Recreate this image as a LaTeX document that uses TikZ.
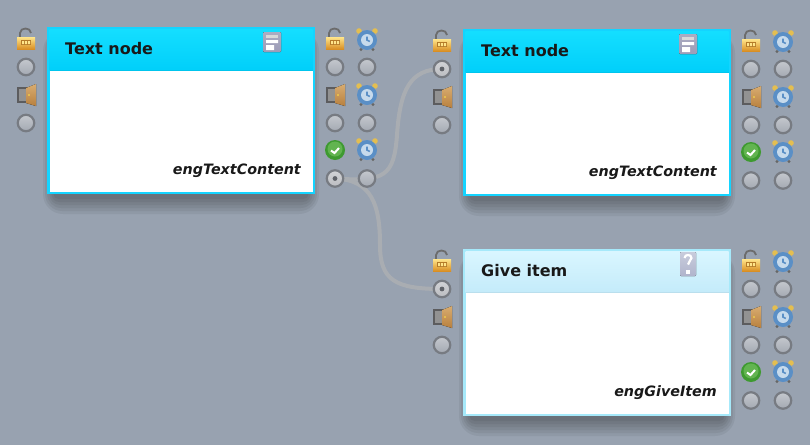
\documentclass[tikz,border=0pt]{standalone}
\usepackage{fontspec}
\setmainfont{DejaVu Sans}
\definecolor{bgc}{HTML}{98A2B0}
\definecolor{linkc}{HTML}{A9ADB2}
\definecolor{portedge}{HTML}{777B82}
\definecolor{porttop}{HTML}{C4C8CE}
\definecolor{portbot}{HTML}{A4A9B2}
\definecolor{dottop}{HTML}{D2D3D6}
\definecolor{dotbot}{HTML}{BBBDC1}
\definecolor{cyanedge}{HTML}{14D4FF}
\definecolor{cyantop}{HTML}{14DEFF}
\definecolor{cyanbot}{HTML}{00CFFA}
\definecolor{paleedge}{HTML}{A6E9FA}
\definecolor{paletop}{HTML}{D9F6FF}
\definecolor{palebot}{HTML}{C4EBFA}
\definecolor{locktop}{HTML}{FFE58A}
\definecolor{lockbot}{HTML}{D98F24}
\definecolor{lockband}{HTML}{B47A28}
\definecolor{doortop}{HTML}{D8AC70}
\definecolor{doorbot}{HTML}{B8803E}
\definecolor{doorframe}{HTML}{5C5C5E}
\definecolor{doorinner}{HTML}{929292}
\definecolor{bellc}{HTML}{E4BE50}
\definecolor{clockc}{HTML}{5A8FC6}
\definecolor{facec}{HTML}{C6DAEC}
\definecolor{okdark}{HTML}{3E9A30}
\definecolor{oklight}{HTML}{62B450}
\definecolor{doctop}{HTML}{ACACC2}
\definecolor{docbot}{HTML}{9C9CB8}
\definecolor{asktop}{HTML}{C8CCDC}
\definecolor{askbot}{HTML}{B0B4CC}
\pgfdeclarelayer{bglayer}
\pgfdeclarelayer{linklayer}
\pgfsetlayers{bglayer,linklayer,main}
\tikzset{
 x=1pt,y=-1pt,
 porte/.style={circle,inner sep=0pt,minimum size=16.5pt,draw=portedge,line width=2.2pt,top color=porttop,bottom color=portbot},
 portd/.style={circle,inner sep=0pt,minimum size=16.5pt,draw=portedge,line width=2.2pt,top color=dottop,bottom color=dotbot,
   path picture={\fill[portedge!80!black] (path picture bounding box.center) circle (2.4pt);}},
 link/.style={draw=linkc,line width=4pt,line cap=round},
 titletext/.style={font=\bfseries\fontsize{16}{18}\selectfont,text=black!90,anchor=base west,inner sep=0pt},
 subtext/.style={font=\bfseries\itshape\fontsize{14.3}{16}\selectfont,text=black!90,anchor=base east,inner sep=0pt},
 pics/lockicon/.style={code={
   \draw[gray!85!black,line width=1.8pt] (-6,-3) -- (-6,-7) .. controls (-6,-13) and (5,-13) .. (5,-7);
   \fill[top color=locktop,bottom color=lockbot] (-9,-3) rectangle (9,9);
   \fill[lockband] (-5,0) rectangle (5,5);
   \fill[locktop] (-4,1) rectangle (-2,4) (-1,1) rectangle (1,4) (2,1) rectangle (4,4);
 }},
 pics/dooricon/.style={code={
   \fill[doorframe] (-9,-8) rectangle (3,8);
   \fill[doorinner] (-7,-6) rectangle (3,6);
   \fill[top color=doortop,bottom color=doorbot] (0,-7) -- (10,-11) -- (10,11) -- (0,8) -- cycle;
   \fill[bellc] (2,-1) rectangle (4,1);
 }},
 pics/clockicon/.style={code={
   \fill[bellc] (-8,-9) circle (2.8pt) (8,-9) circle (2.8pt);
   \fill[gray!80!black] (-6,9.5) circle (1.6pt) (6,9.5) circle (1.6pt);
   \fill[clockc] (0,0) circle (10pt);
   \fill[facec] (0,0) circle (6pt);
   \draw[clockc,line width=1.6pt] (0,-3.5) -- (0,0) -- (2.8,1.5);
 }},
 pics/checkicon/.style={code={
   \fill[okdark] (0,0) circle (10pt);
   \fill[oklight] (0,-1) circle (7.5pt);
   \draw[white,line width=2pt] (-4,0.5) -- (-0.5,3) -- (4,-2);
 }},
 pics/docicon/.style={code={
   \fill[top color=doctop,bottom color=docbot,rounded corners=1pt] (-9,-10) rectangle (9,10);
   \fill[gray!30!white] (-6,-7) rectangle (6,-4);
   \fill[white] (-6,-2) rectangle (6,1) (-6,3) rectangle (2,8);
 }},
 pics/askicon/.style={code={
   \fill[top color=asktop,bottom color=askbot,rounded corners=1pt] (-8,-12) rectangle (8,12);
   \draw[white,line width=2.2pt] (-3.5,-6) .. controls (-3.5,-10) and (3.5,-10) .. (3.5,-6) .. controls (3.5,-3) and (0,-3) .. (0,0.5);
   \fill[white] (-1.6,6) rectangle (1.6,9.5);
 }},
}
% #1 name, #2 x of box left, #3 y of box top, #4 title, #5 subtitle, #6 edge, #7 header top, #8 header bottom, #9 icon
\newcommand{\flownode}[9]{%
 \begin{scope}[shift={(#2,#3)}]
  \foreach \g in {20,17,14,11,8,5}{
    \fill[black,opacity=0.055,rounded corners=\g pt] ({10-\g*0.7},{10-\g*0.3}) rectangle ({258+\g*0.7},{167+\g});
  }
  \fill[#6] (0,0) rectangle (268,167);
  \node[fill=white,anchor=north west,minimum width=263pt,minimum height=122pt,inner sep=0pt] (#1body) at (2.5,42.5) {};
  \node[anchor=north west,minimum width=263pt,minimum height=41pt,inner sep=0pt,top color=#7,bottom color=#8] (#1head) at (2.5,2.5) {};
  \draw[#8!95!black,line width=1pt] (#1head.south west) -- (#1head.south east);
  \node[titletext] (#1title) at (18,27.5) {#4};
  \node[subtext] (#1sub) at (254,147) {#5};
  \pic at (225,15) {#9};
 \end{scope}%
}
% #1 name prefix, #2 box left, #3 box top, #4 style of the second input port, #5 style of first bottom output port
\newcommand{\nodeports}[5]{%
 \begin{scope}[shift={(#2,#3)}]
  \pic at (-21,13) {lockicon};
  \node[#4] (#1in) at (-21,40) {};
  \pic at (-21,68) {dooricon};
  \node[porte] (#1ib) at (-21,96) {};
  \pic at (288,13) {lockicon};
  \pic at (320,13) {clockicon};
  \node[porte] (#1ra) at (288,40) {};
  \node[porte] (#1rb) at (320,40) {};
  \pic at (288,68) {dooricon};
  \pic at (320,68) {clockicon};
  \node[porte] (#1rc) at (288,96) {};
  \node[porte] (#1rd) at (320,96) {};
  \pic at (288,123) {checkicon};
  \pic at (320,123) {clockicon};
  \node[#5] (#1out) at (288,151.5) {};
  \node[porte] (#1outb) at (320,151.5) {};
 \end{scope}%
}
\begin{document}
\begin{tikzpicture}
\useasboundingbox (0,0) rectangle (810,445);
\begin{pgfonlayer}{bglayer}
\fill[bgc] (0,0) rectangle (810,445);
\end{pgfonlayer}
\flownode{a}{47}{27}{Text node}{engTextContent}{cyanedge}{cyantop}{cyanbot}{docicon}
\flownode{b}{463}{29}{Text node}{engTextContent}{cyanedge}{cyantop}{cyanbot}{docicon}
\flownode{c}{463}{249}{Give item}{engGiveItem}{paleedge}{paletop}{palebot}{askicon}
\nodeports{a}{47}{27}{porte}{portd}
\nodeports{b}{463}{29}{portd}{porte}
\nodeports{c}{463}{249}{portd}{porte}
\begin{pgfonlayer}{linklayer}
\path[link] (aout.center) .. controls (385,182) and (394,176) .. (397,135)
   .. controls (400,90) and (410,69) .. (bin.center);
\path[link] (aout.center) .. controls (372,180) and (380,205) .. (380,245)
   .. controls (380,280) and (395,289) .. (cin.center);
\end{pgfonlayer}
\end{tikzpicture}
\end{document}
